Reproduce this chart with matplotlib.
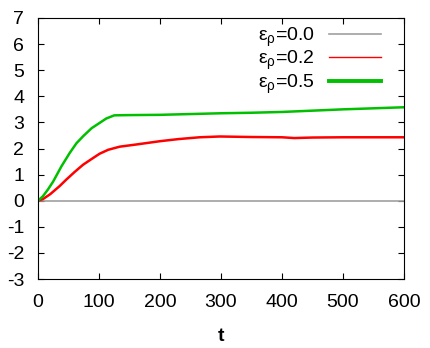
import numpy as np
import matplotlib
matplotlib.use("Agg")
import matplotlib.pyplot as plt

plt.rcParams['font.family'] = ['Liberation Sans', 'DejaVu Sans']
plt.rcParams['mathtext.fontset'] = 'custom'
plt.rcParams['mathtext.rm'] = 'Liberation Sans'
plt.rcParams['axes.unicode_minus'] = False

## values
t_gray = [0, 100, 200, 300, 400, 500, 600]
y_gray = [0, 0, 0, 0, 0, 0, 0]

t_red = [0, 8, 20, 35, 46, 60, 74, 88, 101, 115, 134, 160, 200, 230, 265, 298, 350, 400, 420, 450, 500, 600]
y_red = [0, 0.06, 0.25, 0.55, 0.8, 1.1, 1.38, 1.6, 1.8, 1.95, 2.07, 2.15, 2.28, 2.36, 2.43, 2.46, 2.44, 2.43, 2.40, 2.42, 2.43, 2.43]

t_green = [0, 8, 16, 25, 38, 52, 63, 74, 88, 101, 112, 125, 150, 200, 250, 300, 350, 400, 450, 500, 550, 600]
y_green = [0, 0.17, 0.42, 0.74, 1.3, 1.83, 2.2, 2.47, 2.78, 2.98, 3.15, 3.27, 3.28, 3.29, 3.32, 3.35, 3.37, 3.4, 3.45, 3.5, 3.54, 3.58]

labels = [r'ε$_\mathregular{ρ}$=0.0', r'ε$_\mathregular{ρ}$=0.2', r'ε$_\mathregular{ρ}$=0.5']

fig = plt.figure(figsize=(4.3, 3.48), dpi=100)
ax = fig.add_axes([38/430, 1-279/348, (404-38)/430, (279-18)/348])

ax.plot(t_gray, y_gray, color='#a0a0a0', lw=1.2, label=labels[0])
ax.plot(t_red, y_red, color='#ff0000', lw=1.8, label=labels[1])
ax.plot(t_green, y_green, color='#00c000', lw=1.8, label=labels[2])

ax.set_xlim(0, 600)
ax.set_ylim(-3, 7)
ax.set_xticks(range(0, 601, 100))
ax.set_yticks(range(-3, 8))
ax.tick_params(direction='in', top=True, right=True, labelsize=14, length=4)
ax.tick_params(axis='x', pad=11)
ax.tick_params(axis='y', pad=10)
ax.set_xlabel('t', fontsize=14, fontweight='bold', labelpad=12)

leg = ax.legend(loc='upper right', frameon=False, markerfirst=False, fontsize=14,
                handlelength=2.7, handletextpad=0.7, labelspacing=0.0,
                borderaxespad=0.0, borderpad=0.0, bbox_to_anchor=(0.938, 0.972))
for txt in leg.get_texts():
    txt.set_ha('right')
for h, w in zip(leg.legend_handles, [1.2, 1.0, 2.8]):
    h.set_linewidth(w)

fig.savefig('out.png', dpi=100)
